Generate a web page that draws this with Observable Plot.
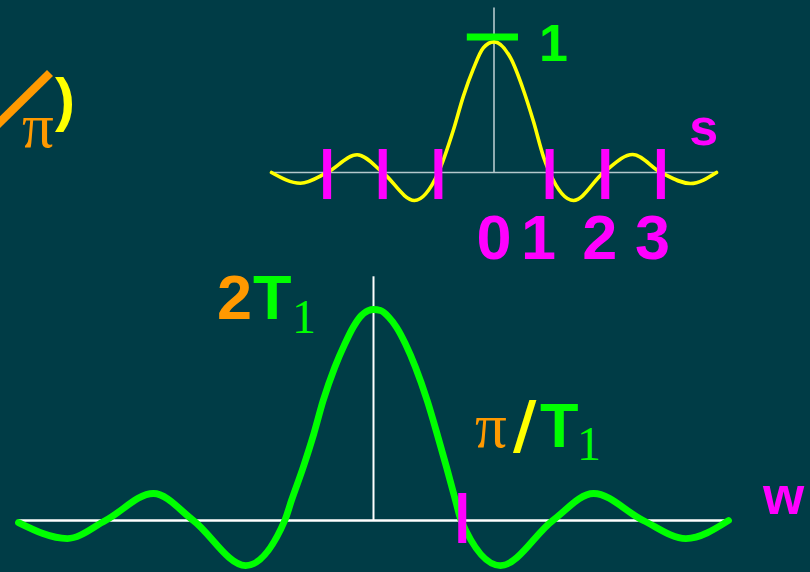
<!DOCTYPE html>
<html><head><meta charset="utf-8">
<script src="https://cdn.jsdelivr.net/npm/d3@7"></script>
<script src="https://cdn.jsdelivr.net/npm/@observablehq/plot@0.6"></script>
<style>
html,body{margin:0;padding:0;background:#003c46;}
#stage{position:relative;width:810px;height:572px;overflow:hidden;background:#003c46;}
#stage svg{position:absolute;left:0;top:0;}
</style></head>
<body><div id="stage"></div>
<script>
// ---- top chart: normalised spectrum vs s
const topS = [-4, -3.48, -3, -2.46, -2, -1.43, -1, -0.73, -0.55, -0.37, -0.19, 0, 0.30, 0.53, 0.71, 0.89, 1, 1.43, 1.97, 2.49, 3, 3.53, 4];
const topV = [0, -0.082, 0, 0.136, 0, -0.214, 0, 0.325, 0.585, 0.795, 0.955, 1, 0.875, 0.63, 0.39, 0.12, 0, -0.214, 0, 0.138, 0, -0.084, 0];
const topZeroTicks = [-3, -2, -1, 1, 2, 3];
const topTickLabels = ["0", "1", "2", "3"];
const topTickLabelS = [0, 0.8, 1.9, 2.85];

// ---- bottom chart: spectrum vs w in units of π/T1, amplitude in units of T1 (peak 2T1)
const botW = [-4, -3.45, -3.02, -2.48, -2.03, -1.44, -1.0, -0.924, -0.792, -0.673, -0.567, -0.436, -0.323, -0.229, -0.154, -0.06, 0, 0.079, 0.173, 0.259, 0.36, 0.473, 0.605, 0.717, 0.823, 0.924, 0.988, 1.43, 2.02, 2.48, 3.04, 3.52, 4];
const botV = [-0.02, -0.171, 0, 0.256, 0, -0.427, 0, 0.19, 0.505, 0.82, 1.137, 1.453, 1.674, 1.832, 1.927, 1.99, 2.0, 1.99, 1.927, 1.832, 1.674, 1.453, 1.137, 0.82, 0.505, 0.19, 0, -0.427, 0, 0.256, 0, -0.171, 0];
const botZeroTicks = [1];

const topData = topS.map((s, i) => ({s, v: topV[i]}));
const botData = botW.map((w, i) => ({w, v: botV[i]}));

const YEL = "#ffff00", GRN = "#00ff00", MAG = "#ff00ff", ORA = "#ff9900";
const SANS = "'Liberation Sans', Arial, sans-serif";
const SERIF = "'Liberation Serif', 'Times New Roman', serif";
const SLASH = "'DejaVu Sans', sans-serif";
const stage = document.getElementById("stage");

const topPlot = Plot.plot({
  width: 810, height: 572,
  marginLeft: 271, marginRight: 94, marginTop: 41.4, marginBottom: 400,
  x: {domain: [-4, 4], axis: null},
  y: {domain: [0, 1], axis: null},
  style: {background: "transparent", overflow: "visible"},
  marks: [
    Plot.ruleY([0], {x1: -4, x2: 4.02, stroke: "#b4c8cc", strokeWidth: 1.6}),
    Plot.ruleX([0], {y1: 0, y2: 1.26, stroke: "#b4c8cc", strokeWidth: 1.6}),
    Plot.line(topData, {x: "s", y: "v", stroke: YEL, strokeWidth: 3.6, curve: "monotone-x"}),
    Plot.ruleX(topZeroTicks, {y1: -0.207, y2: 0.176, stroke: MAG, strokeWidth: 8}),
    Plot.ruleY([1], {x1: -0.48, x2: 0.44, dy: -5, stroke: GRN, strokeWidth: 7}),
    Plot.text(["1"], {x: 1.07, y: 0.98, text: d => d, fill: GRN, fontSize: 52, fontWeight: "bold", fontFamily: SANS, lineAnchor: "middle"}),
    Plot.text(["s"], {x: 3.77, y: 0.34, text: d => d, fill: MAG, fontSize: 52, fontWeight: "bold", fontFamily: SANS, lineAnchor: "middle"}),
    Plot.text(topTickLabels, {x: (d, i) => topTickLabelS[i], y: -0.66, text: d => d, fill: MAG, fontSize: 63, fontWeight: "bold", fontFamily: SANS, lineAnchor: "bottom"})
  ]
});

const botPlot = Plot.plot({
  width: 810, height: 572,
  marginLeft: 18, marginRight: 82, marginTop: 309, marginBottom: 52,
  x: {domain: [-4, 4], axis: null},
  y: {domain: [0, 2], axis: null},
  style: {background: "transparent", overflow: "visible"},
  marks: [
    Plot.ruleY([0], {x1: -4, x2: 4.03, stroke: "#ffffff", strokeWidth: 2.5}),
    Plot.ruleX([0], {y1: 0, y2: 2.31, stroke: "#ffffff", strokeWidth: 2}),
    Plot.line(botData, {x: "w", y: "v", stroke: GRN, strokeWidth: 6.8, curve: "monotone-x"}),
    Plot.ruleX(botZeroTicks, {y1: -0.218, y2: 0.256, stroke: MAG, strokeWidth: 8}),
    Plot.text(["w"], {x: 4.62, y: 0.218, text: d => d, fill: MAG, fontSize: 53, fontWeight: "bold", fontFamily: SANS, lineAnchor: "middle"})
  ]
});

stage.appendChild(topPlot);
stage.appendChild(botPlot);

// ---- text annotations (rich, multi-coloured labels)
const ann = d3.create("svg").attr("width", 810).attr("height", 572);

// cut-off fragment at the left: "/π)"
ann.append("line").attr("x1", -6).attr("y1", 128).attr("x2", 50).attr("y2", 73)
  .attr("stroke", ORA).attr("stroke-width", 8.5);
ann.append("text").attr("x", 22).attr("y", 147).attr("fill", ORA)
  .style("font-family", SERIF).style("font-size", "63px").text("π");
ann.append("text").attr("x", 55).attr("y", 120).attr("fill", YEL)
  .style("font-family", SANS).style("font-weight", "bold").style("font-size", "60px").text(")");

// "2T1"
const t1 = ann.append("text").attr("y", 319);
t1.append("tspan").attr("x", 217).attr("fill", ORA).style("font-family", SANS).style("font-weight", "bold").style("font-size", "63px").text("2");
t1.append("tspan").attr("x", 253).attr("fill", GRN).style("font-family", SANS).style("font-weight", "bold").style("font-size", "63px").text("T");
t1.append("tspan").attr("x", 292).attr("y", 333).attr("fill", GRN).style("font-family", SERIF).style("font-size", "48px").text("1");

// "π/T1"
const t2 = ann.append("text").attr("y", 447);
t2.append("tspan").attr("x", 475).attr("fill", ORA).style("font-family", SERIF).style("font-size", "63px").text("π");
t2.append("tspan").attr("x", 513).attr("fill", YEL).style("font-family", SLASH).style("font-weight", "bold").style("font-size", "64px").text("/");
t2.append("tspan").attr("x", 540).attr("fill", GRN).style("font-family", SANS).style("font-weight", "bold").style("font-size", "63px").text("T");
t2.append("tspan").attr("x", 577).attr("y", 460).attr("fill", GRN).style("font-family", SERIF).style("font-size", "48px").text("1");

stage.appendChild(ann.node());
</script>
</body></html>
